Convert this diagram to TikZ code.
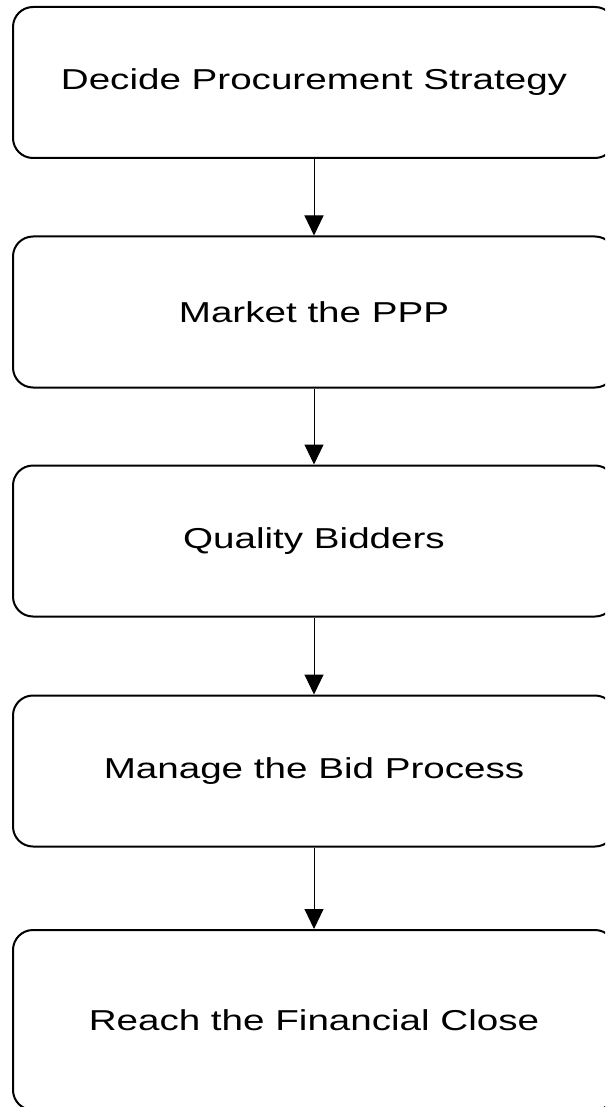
\documentclass[tikz,border=0pt]{standalone}
\usepackage{fontspec}
\setmainfont[FakeStretch=1.34]{Liberation Sans}
\usetikzlibrary{arrows.meta}

\begin{document}
\begin{tikzpicture}[
    x=1pt, y=-1pt,
    every node/.style={draw, line width=2pt, rounded corners=20pt, minimum width=602pt,
                       minimum height=151pt, font=\fontsize{28.8}{34}\selectfont},
    flow/.style={{Triangle[width=19pt,length=20pt]}-, line width=1pt},
]
  \useasboundingbox (0,0) rectangle (605,1107);
  \clip (0,0) rectangle (605,1107);
  \node []                     (strategy) at (314,  82.5) {Decide Procurement Strategy};
  \node []                     (market)   at (314, 312  ) {Market the PPP}
                                                         edge [flow] (strategy);
  \node []                     (bidders)  at (314, 541  ) {Quality Bidders}
                                                         edge [flow] (market);
  \node []                     (bid)      at (314, 771  ) {Manage the Bid Process}
                                                         edge [flow] (bidders);
  \node [minimum height=180pt] (close)    at (314,1020  ) {Reach the Financial Close}
                                                         edge [flow] (bid);
\end{tikzpicture}
\end{document}
